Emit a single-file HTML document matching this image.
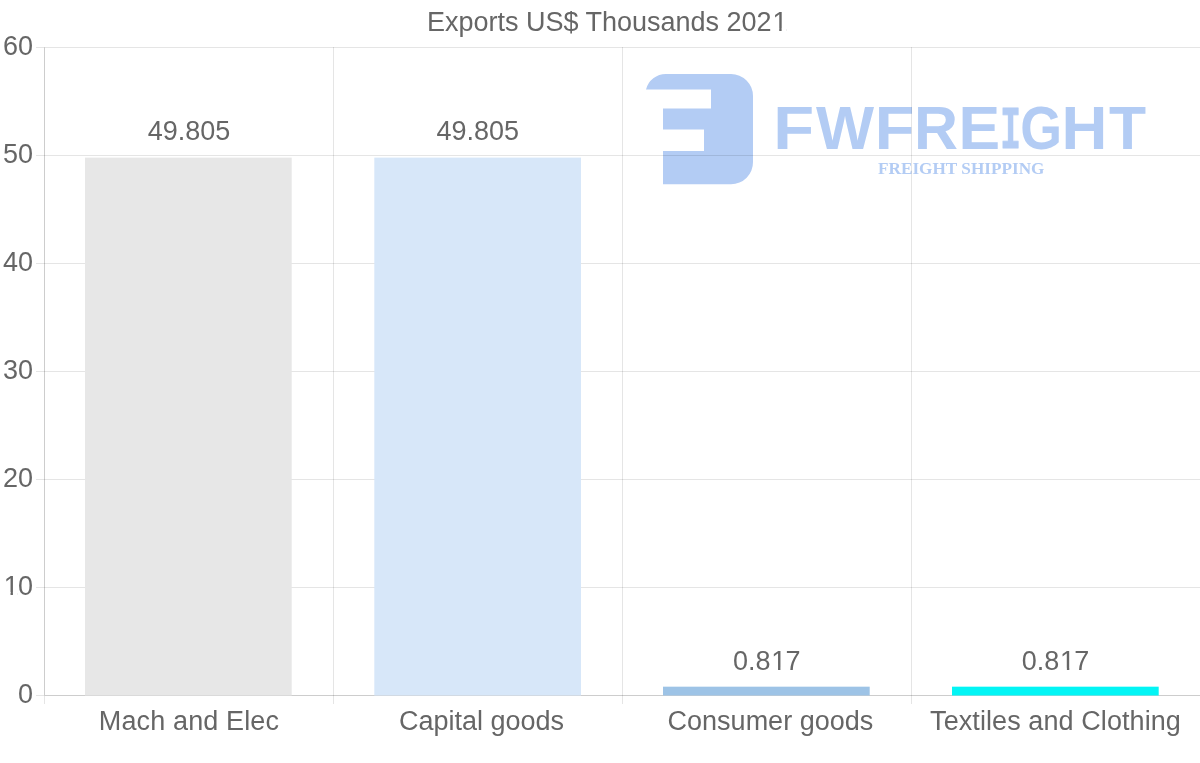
<!DOCTYPE html><html><head><meta charset="utf-8"><title>Exports US$ Thousands 2021</title><style>html,body{margin:0;padding:0;background:#fff;width:1200px;height:763px;overflow:hidden}svg{display:block;will-change:transform}text{font-family:"Liberation Sans",Arial,sans-serif}</style></head><body>
<svg width="1200" height="763" viewBox="0 0 1200 763">
<defs>
<mask id="m_title" maskUnits="userSpaceOnUse" x="0" y="0" width="1200" height="763"><rect width="1200" height="763" fill="#fff"/>
<rect x="773.44" y="28.60" width="5.79" height="4" fill="#000"/><rect x="781.62" y="28.60" width="4.9" height="4" fill="#000"/>
</mask>
<mask id="m_y10" maskUnits="userSpaceOnUse" x="0" y="0" width="1200" height="763"><rect width="1200" height="763" fill="#fff"/>
<rect x="4.74" y="592.10" width="5.79" height="4" fill="#000"/><rect x="12.92" y="592.10" width="4.9" height="4" fill="#000"/>
</mask>
<mask id="m_d2" maskUnits="userSpaceOnUse" x="0" y="0" width="1200" height="763"><rect width="1200" height="763" fill="#fff"/>
<rect x="772.23" y="667.88" width="5.79" height="4" fill="#000"/><rect x="780.41" y="667.88" width="4.9" height="4" fill="#000"/>
</mask>
<mask id="m_d3" maskUnits="userSpaceOnUse" x="0" y="0" width="1200" height="763"><rect width="1200" height="763" fill="#fff"/>
<rect x="1061.10" y="667.88" width="5.79" height="4" fill="#000"/><rect x="1069.28" y="667.88" width="4.9" height="4" fill="#000"/>
</mask>
</defs>
<rect width="1200" height="763" fill="#fff"/>
<path d="M666,74 H731 A22,22 0 0 1 753,96 V162 A22,22 0 0 1 731,184.3 H663 V151 H704 V129.5 H663 V108.6 H711 V89.6 H646 A20.5,20.5 0 0 1 666,74 Z" fill="#b3ccf4"/>
<g fill="#b3ccf4" style="font-family:'Liberation Sans',Arial,sans-serif;font-weight:bold;font-size:61.5px">
<text x="773.21" y="148.8" textLength="40.87" lengthAdjust="spacingAndGlyphs">F</text>
<text x="816.0" y="148.8" textLength="58.07" lengthAdjust="spacingAndGlyphs">W</text>
<text x="874.75" y="148.8" textLength="39.59" lengthAdjust="spacingAndGlyphs">F</text>
<text x="914.0" y="148.8" textLength="44.05" lengthAdjust="spacingAndGlyphs">R</text>
<text x="958.41" y="148.8" textLength="41.62" lengthAdjust="spacingAndGlyphs">E</text>
<text x="1020.24" y="148.8" textLength="41.8" lengthAdjust="spacingAndGlyphs">G</text>
<text x="1061.63" y="148.8" textLength="45.89" lengthAdjust="spacingAndGlyphs">H</text>
<text x="1109.0" y="148.8" textLength="37.06" lengthAdjust="spacingAndGlyphs">T</text>
</g>
<text x="1000.24" y="148.2" textLength="20.6" lengthAdjust="spacingAndGlyphs" fill="#b3ccf4" stroke="#b3ccf4" stroke-width="0.8" style="font-family:'Liberation Mono',monospace;font-weight:bold;font-size:62px">I</text>
<text x="878" y="174.3" fill="#b3ccf4" style="font-family:'Liberation Serif',serif;font-weight:bold;font-size:17px" textLength="166.5" lengthAdjust="spacingAndGlyphs">FREIGHT SHIPPING</text>
<g fill="rgba(0,0,0,0.1)" shape-rendering="crispEdges">
<rect x="36" y="47" width="1164" height="1"/>
<rect x="36" y="155" width="1164" height="1"/>
<rect x="36" y="263" width="1164" height="1"/>
<rect x="36" y="371" width="1164" height="1"/>
<rect x="36" y="479" width="1164" height="1"/>
<rect x="36" y="587" width="1164" height="1"/>
<rect x="36" y="695" width="1164" height="1"/>
<rect x="44" y="47" width="1" height="657"/>
<rect x="333" y="47" width="1" height="657"/>
<rect x="622" y="47" width="1" height="657"/>
<rect x="911" y="47" width="1" height="657"/>
<rect x="44" y="48" width="1" height="647"/>
<rect x="45" y="695" width="1155" height="1"/>
</g>
<rect x="85.00" y="157.61" width="206.70" height="537.89" fill="#e7e7e7"/>
<rect x="374.30" y="157.61" width="206.70" height="537.89" fill="#d7e7f9"/>
<rect x="663.00" y="686.68" width="206.70" height="8.82" fill="#9dc3e6"/>
<rect x="952.00" y="686.68" width="206.70" height="8.82" fill="#03f5f5"/>
<g fill="#666" style="font-size:27px">
<text id="title" x="607.2" y="31" text-anchor="middle" mask="url(#m_title)">Exports US$ Thousands 202<tspan dx="0.8">1</tspan></text>
<text id="y60" x="33.0" y="54.5" text-anchor="end">60</text>
<text id="y50" x="33.0" y="162.5" text-anchor="end">50</text>
<text id="y40" x="33.0" y="270.5" text-anchor="end">40</text>
<text id="y30" x="33.0" y="378.5" text-anchor="end">30</text>
<text id="y20" x="33.0" y="486.5" text-anchor="end">20</text>
<text id="y10" x="33.0" y="594.5" text-anchor="end" mask="url(#m_y10)">1<tspan dx="-0.8">0</tspan></text>
<text id="y0" x="33.0" y="702.5" text-anchor="end">0</text>
<text id="x0" x="188.9" y="730" text-anchor="middle" textLength="180.2" lengthAdjust="spacing">Mach and Elec</text>
<text id="d0" x="188.94" y="140.31" text-anchor="middle">49.805</text>
<text id="x1" x="481.5" y="730" text-anchor="middle">Capital goods</text>
<text id="d1" x="477.81" y="140.31" text-anchor="middle">49.805</text>
<text id="x2" x="770.4" y="730" text-anchor="middle">Consumer goods</text>
<text id="d2" x="766.69" y="670.28" text-anchor="middle" mask="url(#m_d2)">0.8<tspan dx="0.8">1</tspan><tspan dx="-0.8">7</tspan></text>
<text id="x3" x="1055.5" y="730" text-anchor="middle" textLength="250.8" lengthAdjust="spacing">Textiles and Clothing</text>
<text id="d3" x="1055.56" y="670.28" text-anchor="middle" mask="url(#m_d3)">0.8<tspan dx="0.8">1</tspan><tspan dx="-0.8">7</tspan></text>
</g>
</svg></body></html>
